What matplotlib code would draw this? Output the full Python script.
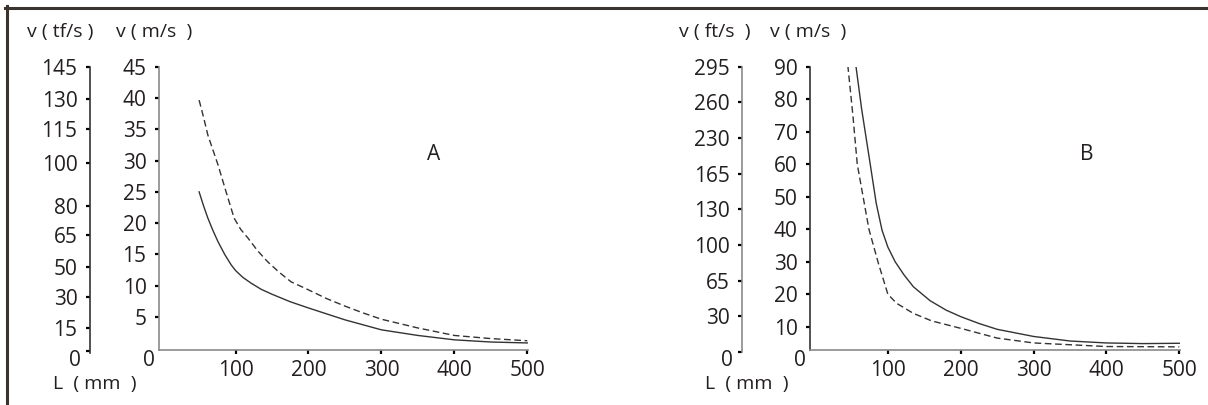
import numpy as np
import matplotlib
matplotlib.use('Agg')
import matplotlib.pyplot as plt
from matplotlib.lines import Line2D

plt.rcParams['font.family'] = ['Open Sans', 'DejaVu Sans']

# panel A
L_a_solid = [50, 56, 62, 69, 76, 85, 94, 100, 110, 121, 135, 150, 175, 200,
             250, 300, 350, 400, 450, 500]
v_a_solid = [25, 22.8, 20.8, 18.8, 17, 15, 13.3, 12.4, 11.3, 10.4, 9.4, 8.6, 7.4, 6.4,
             4.5, 2.9, 2.0, 1.3, 0.95, 0.8]
L_a_dash = [50, 56, 62, 69, 76, 87, 98, 107, 117, 130, 144, 160, 176, 200, 225,
            250, 275, 300, 350, 400, 450, 500]
v_a_dash = [39.7, 37, 34.1, 31.7, 29.3, 25, 20.8, 19, 17.6, 15.6, 13.8, 12.1, 10.6, 9.3, 7.9,
            6.7, 5.6, 4.6, 3.2, 2.0, 1.5, 1.15]
a_ms_ticks = [5, 10, 15, 20, 25, 30, 35, 40, 45]
a_tf_labels = ['145', '130', '115', '100', '80', '65', '50', '30', '15', '0']
a_tf_at = [45, 39.9, 35.0, 29.7, 22.7, 18.1, 13.0, 8.1, 3.2, -0.5]   # m/s equivalents

# panel B
L_b_solid = [56, 64, 76, 84, 92, 100, 110, 122, 135, 158, 180, 200, 225, 250, 300,
             350, 400, 450, 500]
v_b_solid = [90.5, 77, 59.7, 48, 39.7, 34.5, 30, 26, 22.3, 18.0, 15.1, 13.1, 11.0, 9.2, 7.0,
             5.6, 5.0, 4.8, 4.9]
L_b_dash = [45, 52, 58, 66, 74, 87, 100, 112, 135, 160, 200, 250, 300, 400, 500]
v_b_dash = [90.5, 75, 60, 50, 40, 29.5, 20, 17.2, 14.1, 11.8, 9.5, 6.5, 5.0, 3.9, 3.8]
b_ms_ticks = [10, 20, 30, 40, 50, 60, 70, 80, 90]
b_ft_labels = ['295', '260', '230', '165', '130', '100', '65', '30', '0']
b_ft_at = [90, 79.2, 68.2, 57.1, 46.3, 35.2, 24.2, 13.3, 2.2]

x_ticks = [100, 200, 300, 400, 500]

W, H = 1208, 405
txt = '#231f20'
fig = plt.figure(figsize=(W / 100, H / 100), dpi=100)

def fx(px):
    return px / W

def fy(py):
    return 1 - py / H

def panel(left, right, ylim, ms_ticks, outer_x, outer_labels, outer_at, outer_bottom,
          ms_col, outer_col, letter, letter_xy, xlim_left):
    top, bot = 66.7, 350
    ax = fig.add_axes([fx(left), fy(bot), fx(right - left), (bot - top) / H])
    ax.set_xlim(xlim_left, 501)
    ax.set_ylim(*ylim)
    for s in ['top', 'right']:
        ax.spines[s].set_visible(False)
    ax.spines['bottom'].set_color('#8a8a8a')
    ax.spines['left'].set_color(ms_col)
    ax.spines['bottom'].set_linewidth(1.2)
    ax.spines['left'].set_linewidth(1.2)
    ax.set_xticks(x_ticks)
    ax.set_yticks(ms_ticks)
    ax.tick_params(direction='out', length=3, width=1.6, color='black',
                   labelsize=15, labelcolor=txt)
    ax.tick_params(axis='x', pad=4)
    ax.tick_params(axis='y', pad=6)
    ax.annotate('0', xy=(0, 0), xycoords='axes fraction', xytext=(-4, -11),
                textcoords='offset pixels', ha='right', va='center',
                fontsize=15, color=txt)
    ax.text(letter_xy[0], letter_xy[1], letter, fontsize=15, color=txt,
            ha='center', va='center')

    # outer (imperial) axis, drawn as a thin separate axes
    pxu = (bot - top) / (ylim[1] - ylim[0])
    ob = bot + outer_bottom
    ax2 = fig.add_axes([fx(outer_x), fy(ob), 0.0001, (ob - top) / H])
    ax2.set_ylim(ylim[0] - outer_bottom / pxu, ylim[1])
    for s in ['top', 'right', 'bottom']:
        ax2.spines[s].set_visible(False)
    ax2.spines['left'].set_color(outer_col)
    ax2.spines['left'].set_linewidth(1.2)
    ax2.set_xticks([])
    ax2.set_yticks(outer_at)
    ax2.set_yticklabels(outer_labels[:-1] + [''])
    ax2.tick_params(direction='out', length=3, width=1.6, color='black',
                    labelsize=15, labelcolor=txt, pad=6)
    ax2.annotate('0', xy=(0, 0), xycoords='axes fraction', xytext=(-9, -8),
                 textcoords='offset pixels', ha='right', va='center',
                 fontsize=15, color=txt)
    ax2.patch.set_visible(False)
    return ax

axA = panel(159, 528, (-0.33, 45.05), a_ms_ticks, 90, a_tf_labels, a_tf_at, 3,
            '#8a8a8a', '#333333', 'A', (371, 31), -5)
axA.plot(L_a_solid, v_a_solid, color='#333333', lw=1.0)
axA.plot(L_a_dash, v_a_dash, color='#333333', lw=1.0, dashes=(4.8, 2.6))

axB = panel(810, 1180, (2.83, 90.05), b_ms_ticks, 742, b_ft_labels, b_ft_at, 2,
            '#333333', '#8a8a8a', 'B', (373, 63), -6.9)
axB.plot(L_b_solid, v_b_solid, color='#333333', lw=1.0)
axB.plot(L_b_dash, v_b_dash, color='#333333', lw=1.0, dashes=(4.8, 2.6))

# axis titles
fig.text(fx(27), fy(32), 'v ( tf/s )', fontsize=14, color=txt, va='center')
fig.text(fx(116), fy(32), 'v ( m/s  )', fontsize=14, color=txt, va='center')
fig.text(fx(53), fy(384), 'L  ( mm  )', fontsize=14, color=txt, va='center')
fig.text(fx(679), fy(32), 'v ( ft/s  )', fontsize=14, color=txt, va='center')
fig.text(fx(770), fy(32), 'v ( m/s  )', fontsize=14, color=txt, va='center')
fig.text(fx(705), fy(384), 'L  ( mm  )', fontsize=14, color=txt, va='center')

# frame around the figure (top and left edges)
frame = '#3b3330'
fig.add_artist(Line2D([fx(5), 1], [fy(7.5), fy(7.5)], color=frame, lw=2.2))
fig.add_artist(Line2D([fx(6.5), fx(6.5)], [fy(6), 0], color=frame, lw=2.2))

fig.savefig('out.png', dpi=100)
